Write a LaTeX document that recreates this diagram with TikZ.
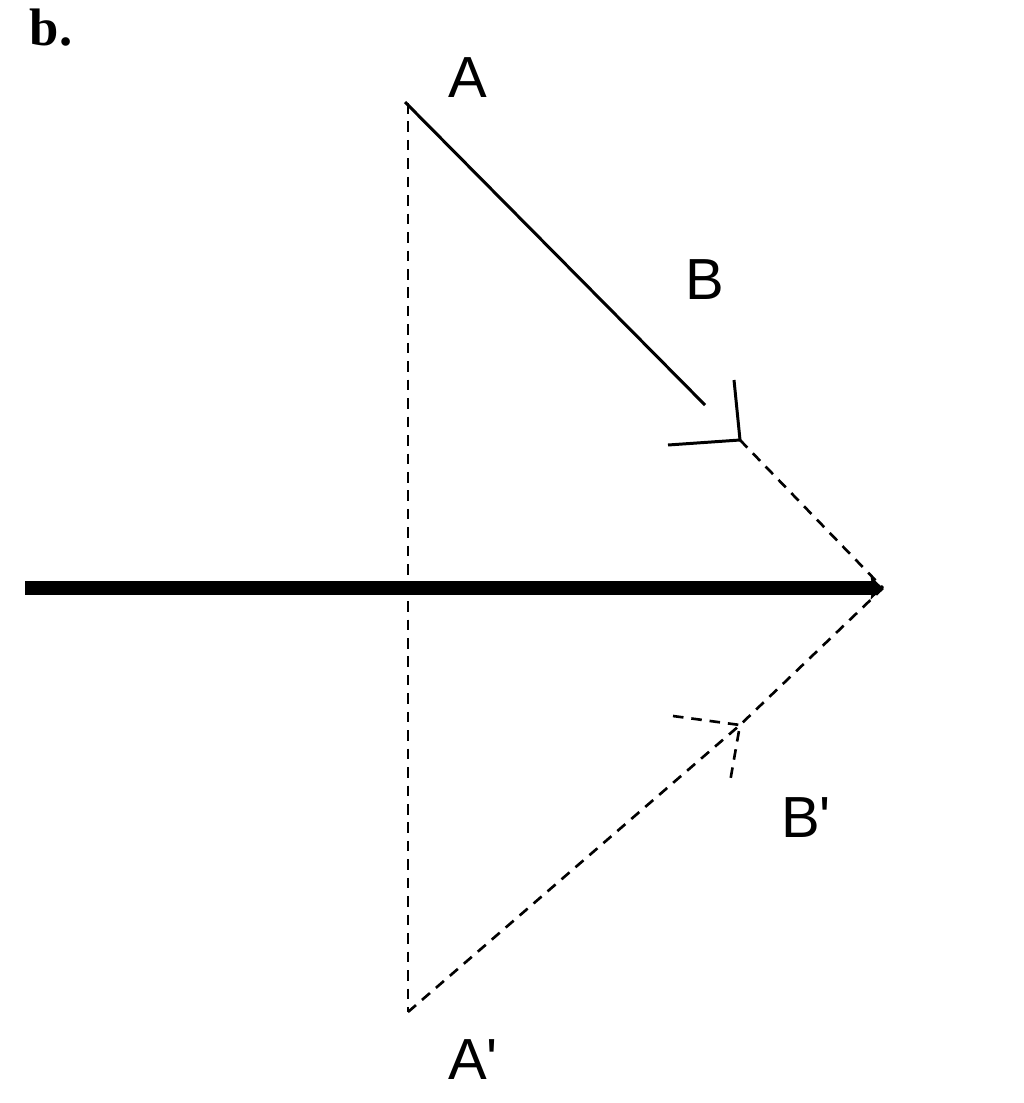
\documentclass[tikz,border=0pt]{standalone}
\usepackage{fontspec}
\setmainfont{Liberation Serif}
\newfontfamily\labelfont{Liberation Sans}
\usetikzlibrary{arrows.meta}
\begin{document}
\begin{tikzpicture}[x=0.02cm, y=-0.02cm, >=stealth,
    ray/.style={line width=1.7pt},
    imray/.style={line width=1.5pt, dash pattern={on 6pt off 4.5pt}},
    lbl/.style={font=\labelfont\fontsize{33}{40}\selectfont, inner sep=0pt}]
			\useasboundingbox (0,0) rectangle (1024,1103);
			% coordinates
			\coordinate (A) at (405,102);
			\coordinate (B) at (705,405);
			\coordinate (Btip) at (740,440);
			\coordinate (Bl) at (668,445);
			\coordinate (Bu) at (734,380);
			\coordinate (M) at (883,588);
			\coordinate (Mstart) at (25,588);
			\coordinate (Aim) at (408,1012);
			\coordinate (Atop) at (408,103);
			\coordinate (Bimtip) at (740,725);
			\coordinate (Biml) at (673,716);
			\coordinate (Bimd) at (730,782);
			% mirror
			\draw[line width=8.5pt, -{Stealth[length=7pt,width=13pt,inset=1pt]}] (Mstart) -- (M);
			% object
			\draw[ray] (A) -- (B);
			\draw[ray] (Bu) -- (Btip) -- (Bl);
			% reflected rays
			\draw[imray] (Btip) -- (M);
			\draw[imray] (Atop) -- (Aim);
			\draw[imray] (Aim) -- (Bimtip) -- (M);
			\draw[imray] (Biml) -- (Bimtip) -- (Bimd);
			% labels
			\node[lbl] (la) at (468,78) {A};
			\node[lbl] (lb) at (705,280) {B};
			\node[lbl] (lbi) at (806,818) {B'};
			\node[lbl] (lai) at (473,1060) {A'};
			\node[font=\bfseries\fontsize{30}{36}\selectfont, inner sep=0pt] (tag) at (51,28) {b.};
		\end{tikzpicture}
\end{document}
